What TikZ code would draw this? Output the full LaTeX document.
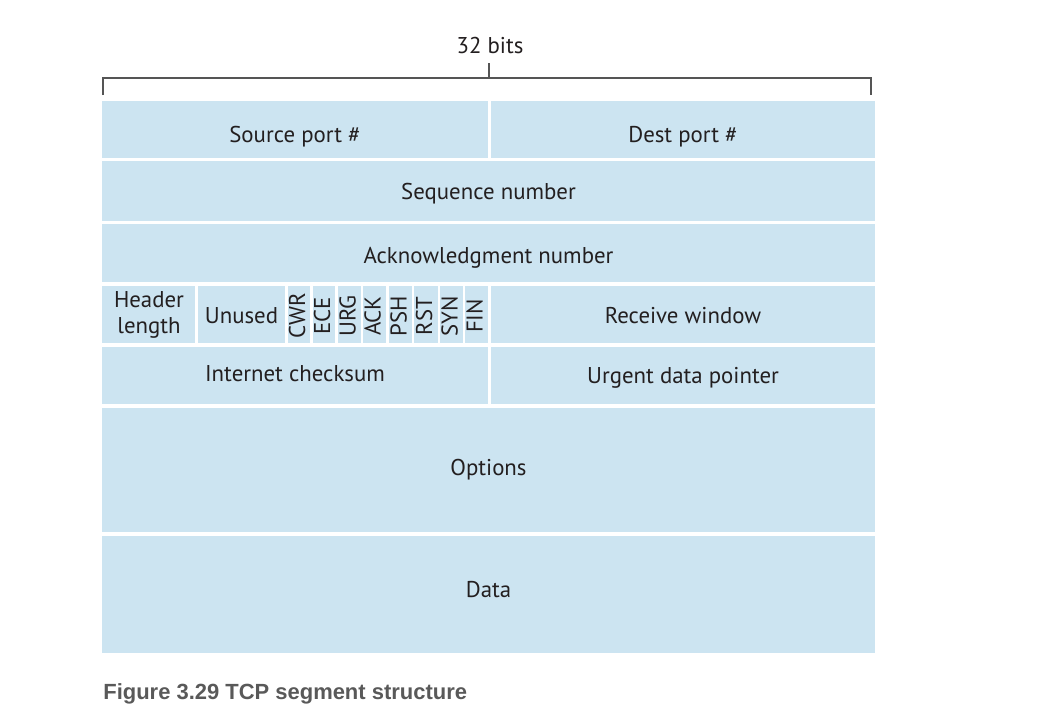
\documentclass[tikz,border=0pt]{standalone}
\usepackage{fontspec}
\setmainfont{PT Sans}
\newfontfamily\capfont{Liberation Sans}
\usetikzlibrary{positioning}

\begin{document}
\begin{tikzpicture}[x=0.02cm, y=-0.02cm]

  % --- Farben ---
  \definecolor{cellblue}{HTML}{CCE4F1} % Hellblau  – Felder
  \definecolor{txtgray}{HTML}{231F20}  % Text
  \definecolor{capgray}{HTML}{595959}  % Bildunterschrift
  \definecolor{brgray}{HTML}{555555}   % Klammer

  % --- Stile ---
  \tikzset{
    lbl/.style={text=txtgray, font=\fontsize{13}{14.5}\selectfont, inner sep=0pt, align=center},
    txt/.style={lbl, text height=9.5pt, text depth=2.6pt},
    flag/.style={txt, rotate=90},
    brace/.style={draw=brgray, line width=0.6pt}
  }

  % --- Hilfsmakro: \segcell{Name}{x1}{y1}{x2}{y2}{Text-y}{Text} ---
  \newcommand{\segcell}[7]{%
    \fill[cellblue] (#2,#3) rectangle (#4,#5);
    \node[txt] (#1) at ({(#2+#4)/2},#6) {#7};
  }
  % --- Hilfsmakro: \flagcell{Name}{x1}{x2}{Text} ---
  \newcommand{\flagcell}[4]{%
    \fill[cellblue] (#2,286) rectangle (#3,343);
    \node[flag] (#1) at ({(#2+#3)/2},316) {#4};
  }

  \useasboundingbox (0,0) rectangle (1048,718);

  % --- Klammer "32 bits" ---
  \node[txt] (bits) at (490,47) {32 bits};
  \coordinate (brL)  at (103,95);
  \coordinate (brLt) at (103,78);
  \coordinate (brRt) at (871,78);
  \coordinate (brR)  at (871,95);
  \coordinate (brM)  at (489,78);
  \coordinate (brTop) at (489,63);
  \draw[brace] (brL) -- (brLt) -- (brRt) -- (brR);
  \draw[brace] (brM) -- (brTop);

  % --- Zeile 1: Ports ---
  \segcell{src}{102}{101}{488}{158}{136}{Source port \#}
  \segcell{dst}{491}{101}{875}{158}{136}{Dest port \#}

  % --- Zeile 2 und 3: Nummern ---
  \segcell{seq}{102}{161}{875}{221}{193}{Sequence number}
  \segcell{ack}{102}{224}{875}{282}{257}{Acknowledgment number}

  % --- Zeile 4: Header length, Unused, Flags, Receive window ---
  \fill[cellblue] (102,286) rectangle (195,343);
  \node[lbl] (hlen) at (149,315) {Header\\length};
  \segcell{unused}{198}{286}{285}{343}{317}{Unused}
  \flagcell{cwr}{288}{310}{CWR}
  \flagcell{ece}{313}{335}{ECE}
  \flagcell{urg}{338}{361}{URG}
  \flagcell{fack}{363}{386}{ACK}
  \flagcell{psh}{389}{412}{PSH}
  \flagcell{rst}{414}{438}{RST}
  \flagcell{syn}{440}{463}{SYN}
  \flagcell{fin}{465}{488}{FIN}
  \segcell{rwnd}{491}{286}{875}{343}{317}{Receive window}

  % --- Zeile 5: Checksum, Urgent pointer ---
  \segcell{csum}{102}{347}{488}{404}{375}{Internet checksum}
  \segcell{urgp}{491}{347}{875}{404}{377}{Urgent data pointer}

  % --- Zeile 6 und 7: Options, Data ---
  \segcell{opts}{102}{408}{875}{532}{469}{Options}
  \segcell{data}{102}{536}{875}{653}{591}{Data}

  % --- Bildunterschrift ---
  \node[anchor=west, inner sep=0pt, text=capgray, font=\capfont\bfseries\fontsize{12.5}{15}\selectfont]
    (caption) at (103,694) {Figure 3.29 TCP segment structure};

\end{tikzpicture}
\end{document}
